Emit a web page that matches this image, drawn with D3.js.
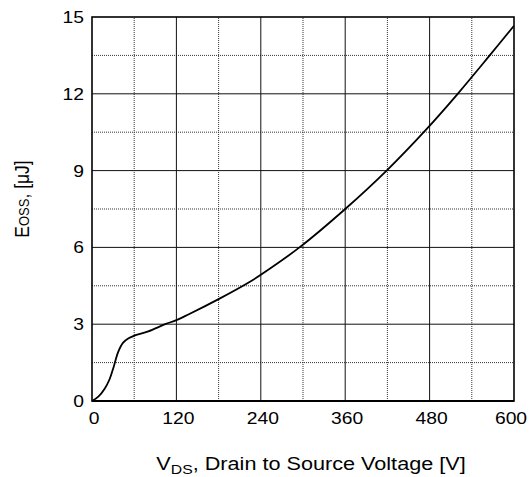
<!DOCTYPE html>
<html>
<head>
<meta charset="utf-8">
<script src="https://cdn.jsdelivr.net/npm/d3@7"></script>
<style>
body { margin: 0; background: #fff; }
text { font-family: "Liberation Sans", Arial, sans-serif; fill: #000; }
</style>
</head>
<body>
<svg width="531" height="477"></svg>
<script>
// Eoss vs Vds
var vds  = [0, 9, 18, 25, 31, 37, 44, 52, 61, 80, 104, 120, 137, 180, 224, 240, 295, 360, 420, 474, 520, 564, 600];
var eoss = [0, 0.17, 0.48, 0.85, 1.35, 1.9, 2.27, 2.45, 2.56, 2.72, 3.0, 3.16, 3.38, 3.98, 4.65, 4.93, 6.0, 7.5, 9.03, 10.57, 12.0, 13.45, 14.66];
var xTicks = [0, 120, 240, 360, 480, 600];
var yTicks = [0, 3, 6, 9, 12, 15];
var xMinor = [60, 180, 300, 420, 540];
var yMinor = [1.5, 4.5, 7.5, 10.5, 13.5];

var svg = d3.select("svg")
var sx = 1.17 // the original artwork is a bit wider than tall

var x = d3.scaleLinear().domain([0, 600]).range([92, 514]),
    y = d3.scaleLinear().domain([0, 15]).range([401, 17]);

// dotted minor grid
svg.append("g").selectAll("line")
  .data(xMinor).enter().append("line")
  .attr("x1", d => x(d)).attr("x2", d => x(d))
  .attr("y1", y(0)).attr("y2", y(15))
  .attr("stroke", "#333").attr("stroke-width", 1).attr("stroke-dasharray", "1,1")
svg.append("g").selectAll("line")
  .data(yMinor).enter().append("line")
  .attr("y1", d => y(d)).attr("y2", d => y(d))
  .attr("x1", x(0)).attr("x2", x(600))
  .attr("stroke", "#333").attr("stroke-width", 1).attr("stroke-dasharray", "1,1")

// solid major grid
svg.append("g").selectAll("line")
  .data(xTicks.slice(1, -1)).enter().append("line")
  .attr("x1", d => x(d)).attr("x2", d => x(d))
  .attr("y1", y(0)).attr("y2", y(15))
  .attr("stroke", "#111").attr("stroke-width", 1)
svg.append("g").selectAll("line")
  .data(yTicks.slice(1, -1)).enter().append("line")
  .attr("y1", d => y(d)).attr("y2", d => y(d))
  .attr("x1", x(0)).attr("x2", x(600))
  .attr("stroke", "#111").attr("stroke-width", 1)

// frame
svg.append("rect")
  .attr("x", x(0)).attr("y", y(15))
  .attr("width", x(600) - x(0)).attr("height", y(0) - y(15))
  .attr("fill", "none").attr("stroke", "#000").attr("stroke-width", 1.6)
svg.append("line")
  .attr("x1", x(0)).attr("x2", x(600)).attr("y1", y(0)).attr("y2", y(0))
  .attr("stroke", "#000").attr("stroke-width", 2.2)

// tick labels
svg.append("g").selectAll("text")
  .data(xTicks).enter().append("text")
  .attr("transform", d => "translate(" + (x(d) + (d == 600 ? -3 : 2)) + ",424) scale(" + sx + ",1)")
  .attr("text-anchor", "middle").attr("font-size", "16.5px")
  .text(d => d)
svg.append("g").selectAll("text")
  .data(yTicks).enter().append("text")
  .attr("transform", d => "translate(84," + (y(d) + 6) + ") scale(" + sx + ",1)")
  .attr("text-anchor", "end").attr("font-size", "16.5px")
  .text(d => d)

// curve
var line = d3.line()
  .x((d, i) => x(vds[i]))
  .y(d => y(d))
  .curve(d3.curveCatmullRom.alpha(0.5))
svg.append("path")
  .datum(eoss)
  .attr("d", line)
  .attr("fill", "none").attr("stroke", "#000").attr("stroke-width", 1.8)

// axis titles
var xt = svg.append("text")
  .attr("transform", "translate(311,470) scale(" + sx + ",1)")
  .attr("text-anchor", "middle").attr("font-size", "18.5px")
xt.append("tspan").text("V")
xt.append("tspan").attr("font-size", "13.5px").attr("dy", 4).text("DS")
xt.append("tspan").attr("dy", -4).text(", Drain to Source Voltage [V]")

var yt = svg.append("text")
  .attr("transform", "translate(29,199) rotate(-90) scale(1," + sx + ")")
  .attr("text-anchor", "middle").attr("font-size", "17.5px")
yt.append("tspan").text("E")
yt.append("tspan").attr("font-size", "13px").text("OSS")
yt.append("tspan").text(", [\u03bcJ]")
</script>
</body>
</html>
